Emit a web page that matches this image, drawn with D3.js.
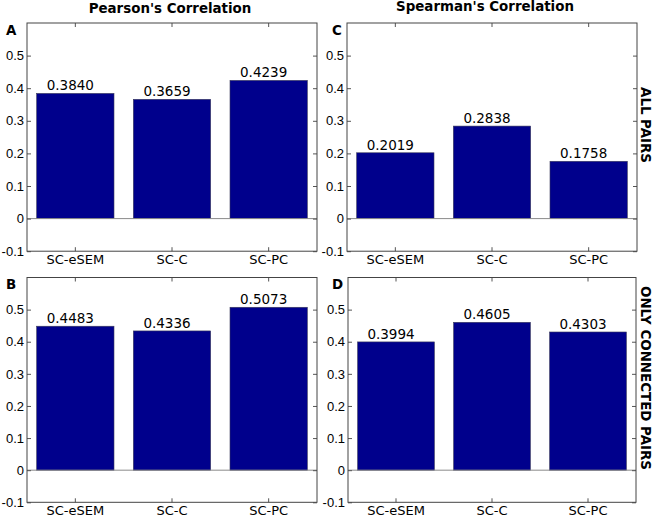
<!DOCTYPE html>
<html>
<head>
<meta charset="utf-8">
<script src="https://cdn.jsdelivr.net/npm/d3@7"></script>
<style>
  html, body { margin: 0; padding: 0; background: #fff; }
  svg { display: block; }
  .tick text { font-family: "Liberation Sans", Arial, sans-serif; font-size: 13px; fill: #000; }
  .cat-axis .tick text { font-family: "DejaVu Sans", sans-serif; font-size: 13px; }
  .tick line { stroke: #555; }
  .value-label { font-family: "DejaVu Sans", sans-serif; font-size: 13.5px; }
  .bold-label { font-family: "DejaVu Sans", sans-serif; font-size: 13.4px; font-weight: bold; }
</style>
</head>
<body>
<div id="chart"></div>
<script>
// values
const categories = ["SC-eSEM", "SC-C", "SC-PC"];
const pearsonAll = [0.3840, 0.3659, 0.4239];
const spearmanAll = [0.2019, 0.2838, 0.1758];
const pearsonConnected = [0.4483, 0.4336, 0.5073];
const spearmanConnected = [0.3994, 0.4605, 0.4303];
const yTicks = [-0.1, 0, 0.1, 0.2, 0.3, 0.4, 0.5];
const yDomain = [-0.1, 0.6];

const width = 654;
const height = 519;

const svg = d3.select("#chart")
  .append("svg")
  .attr("width", width)
  .attr("height", height);

const panels = [
  { letter: "A", values: pearsonAll, left: 27, right: 317, top: 23, bottom: 251.2, labelGap: 12.5 },
  { letter: "C", values: spearmanAll, left: 347, right: 637, top: 23, bottom: 251.2, labelGap: 12.5 },
  { letter: "B", values: pearsonConnected, left: 27, right: 317, top: 277.5, bottom: 502.3, labelGap: 13 },
  { letter: "D", values: spearmanConnected, left: 348, right: 636, top: 277.5, bottom: 502.3, labelGap: 13 },
];

const tickFormat = (d) => (d === 0 ? "0" : d.toFixed(1));

function drawPanel(p) {
  const w = p.right - p.left;
  const h = p.bottom - p.top;
  const g = svg.append("g").attr("transform", `translate(${p.left},${p.top})`);

  const x = d3.scaleBand()
    .domain(categories)
    .range([0, w])
    .paddingInner(0.2)
    .paddingOuter(0.1);
  const y = d3.scaleLinear().domain(yDomain).range([h, 0]);

  const rows = categories.map((c, i) => ({ key: c, value: p.values[i] }));

  g.selectAll("rect.bar")
    .data(rows)
    .join("rect")
    .attr("class", "bar")
    .attr("x", (d) => x(d.key))
    .attr("width", x.bandwidth())
    .attr("y", (d) => y(Math.max(d.value, 0)))
    .attr("height", (d) => Math.abs(y(d.value) - y(0)))
    .attr("fill", "#00008c")
    .attr("stroke", "#3a3a5a")
    .attr("stroke-width", 0.6);

  // zero baseline
  g.append("line")
    .attr("x1", 0)
    .attr("x2", w)
    .attr("y1", y(0))
    .attr("y2", y(0))
    .attr("stroke", "#8a8a8a")
    .attr("stroke-width", 1);

  g.selectAll("text.value-label")
    .data(rows)
    .join("text")
    .attr("class", "value-label")
    .attr("x", (d) => x(d.key) + x.bandwidth() / 2 - 5)
    .attr("y", (d) => y(d.value) - 3)
    .attr("text-anchor", "middle")
    .text((d) => d.value.toFixed(4));

  const left = g.append("g")
    .call(d3.axisLeft(y).tickValues(yTicks).tickFormat(tickFormat)
      .tickSizeInner(-4).tickSizeOuter(0).tickPadding(3));
  const right = g.append("g")
    .attr("transform", `translate(${w},0)`)
    .call(d3.axisRight(y).tickValues(yTicks).tickFormat("")
      .tickSizeInner(-4).tickSizeOuter(0));
  const top = g.append("g")
    .call(d3.axisTop(x).tickFormat("").tickSizeInner(-4).tickSizeOuter(0));
  const bottom = g.append("g")
    .attr("class", "cat-axis")
    .attr("transform", `translate(0,${h})`)
    .call(d3.axisBottom(x).tickSizeInner(-4).tickSizeOuter(0));

  [left, right, top, bottom].forEach((a) => a.select(".domain").remove());
  bottom.selectAll(".tick text").attr("y", p.labelGap).attr("dy", null);

  // frame
  g.append("rect")
    .attr("x", 0)
    .attr("y", 0)
    .attr("width", w)
    .attr("height", h)
    .attr("fill", "none")
    .attr("stroke", "#444")
    .attr("stroke-width", 1);

  svg.append("text")
    .attr("class", "bold-label")
    .attr("x", p.left < 100 ? 6 : 332)
    .attr("y", p.top + 11.5)
    .text(p.letter);
}

panels.forEach(drawPanel);

svg.append("text")
  .attr("class", "bold-label")
  .attr("x", 170)
  .attr("y", 12.5)
  .attr("text-anchor", "middle")
  .text("Pearson's Correlation");

svg.append("text")
  .attr("class", "bold-label")
  .attr("x", 485)
  .attr("y", 11)
  .attr("text-anchor", "middle")
  .text("Spearman's Correlation");

[["ALL PAIRS", 125], ["ONLY CONNECTED PAIRS", 378]].forEach(([label, cy]) => {
  svg.append("text")
    .attr("class", "bold-label")
    .attr("transform", `translate(641,${cy}) rotate(90)`)
    .attr("text-anchor", "middle")
    .text(label);
});
</script>
</body>
</html>
